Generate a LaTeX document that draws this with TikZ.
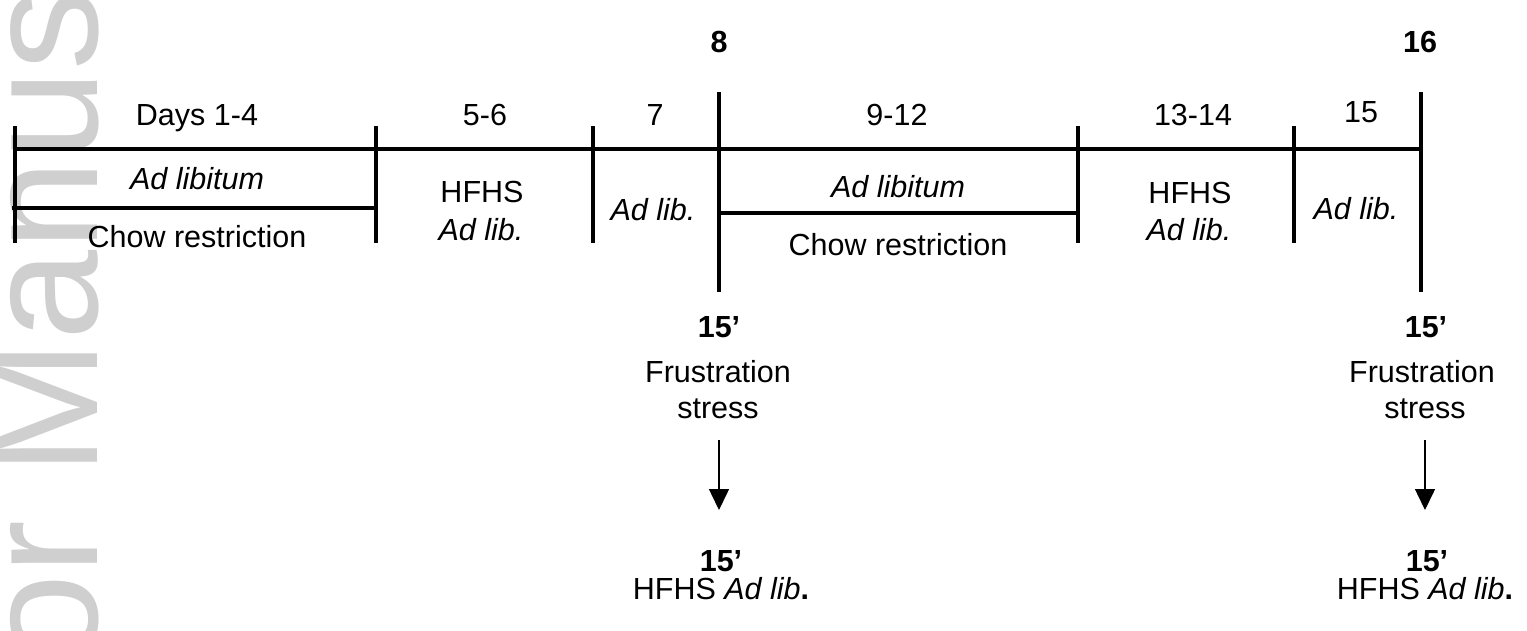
\documentclass[tikz,border=0pt]{standalone}
\usepackage{fontspec}
\setmainfont{Liberation Sans}
\usetikzlibrary{arrows.meta}
\begin{document}
\begin{tikzpicture}[x=1pt,y=-1pt,
  bar/.style={line width=3.1pt},
  arr/.style={line width=1.5pt,-{Triangle[width=20pt,length=21pt]}},
  lbl/.style={inner sep=0pt,anchor=base,font=\fontsize{30.5}{34}\selectfont},
  blbl/.style={lbl,font=\fontsize{30.5}{34}\selectfont\bfseries},
  wm/.style={inner sep=0pt,anchor=base east,rotate=90,text=black!19,font=\fontsize{162}{170}\selectfont}]
\useasboundingbox (0,0) rectangle (1527,630);
% watermark
\node[wm] (wmark) at (97,-11) {or Manus};
% timeline coordinates
\coordinate (L0) at (15,149);
\coordinate (R0) at (1421,149);
\draw[bar] (L0) -- (R0);
\foreach \n/\x/\t/\b in {t1/15/126/243, t2/376/126/243, t3/593/126/243, t4/719/92/292, t5/1078/126/243, t6/1294/126/243, t7/1421/92/292}{
  \coordinate (\n top) at (\x,\t);
  \coordinate (\n bot) at (\x,\b);
  \draw[bar] (\n top) -- (\n bot);
}
\coordinate (s1a) at (12,208);
\coordinate (s1b) at (376,208);
\draw[bar] (s1a) -- (s1b);
\coordinate (s2a) at (719,213);
\coordinate (s2b) at (1076,213);
\draw[bar] (s2a) -- (s2b);
% day labels
\node[lbl] (d14) at (197,125) {Days 1-4};
\node[lbl] (d56) at (485,125) {5-6};
\node[lbl] (d7) at (655,125) {7};
\node[blbl] (d8) at (719,52) {8};
\node[lbl] (d912) at (897,125) {9-12};
\node[lbl] (d1314) at (1193,125) {13-14};
\node[lbl] (d15) at (1361,122) {15};
\node[blbl] (d16) at (1420,52) {16};
% period contents
\node[lbl] (adl1) at (197,189) {\itshape Ad libitum};
\node[lbl] (chow1) at (197,247) {Chow restriction};
\node[lbl] (hf1) at (482,202) {HFHS};
\node[lbl] (hfa1) at (481,240) {\itshape Ad lib.};
\node[lbl] (al7) at (653,220) {\itshape Ad lib.};
\node[lbl] (adl2) at (898,197) {\itshape Ad libitum};
\node[lbl] (chow2) at (898,255) {Chow restriction};
\node[lbl] (hf2) at (1190,203) {HFHS};
\node[lbl] (hfa2) at (1189,240) {\itshape Ad lib.};
\node[lbl] (al15) at (1356,219) {\itshape Ad lib.};
% day 8 test
\node[blbl] (m1) at (719,337) {15’};
\node[lbl] (fr1) at (718,382) {Frustration};
\node[lbl] (st1) at (718,418) {stress};
\coordinate (a1s) at (719,440);
\coordinate (a1e) at (719,510);
\draw[arr] (a1s) -- (a1e);
\node[blbl] (m2) at (721,571) {15’};
\node[lbl] (hr1) at (721,599) {HFHS \textit{Ad lib}\textbf{.}};
% day 16 test
\node[blbl] (m3) at (1426,337) {15’};
\node[lbl] (fr2) at (1422,382) {Frustration};
\node[lbl] (st2) at (1425,418) {stress};
\coordinate (a2s) at (1425,440);
\coordinate (a2e) at (1425,510);
\draw[arr] (a2s) -- (a2e);
\node[blbl] (m4) at (1427,571) {15’};
\node[lbl] (hr2) at (1425,599) {HFHS \textit{Ad lib}\textbf{.}};
\end{tikzpicture}
\end{document}
